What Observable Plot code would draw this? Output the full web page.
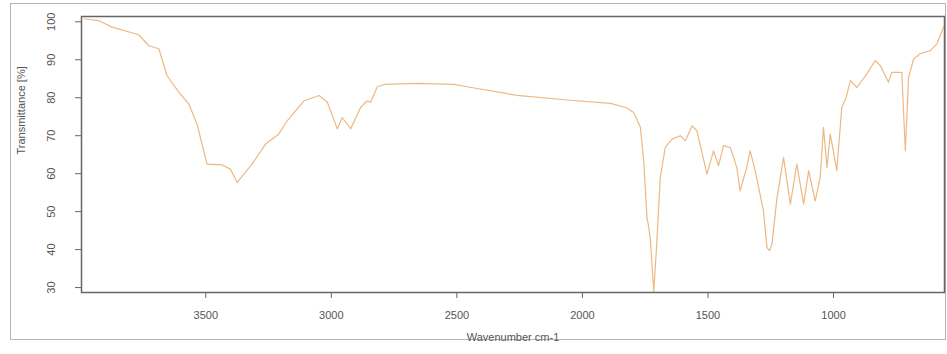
<!DOCTYPE html>
<html>
<head>
<meta charset="utf-8">
<script src="https://cdn.jsdelivr.net/npm/d3@7"></script>
<script src="https://cdn.jsdelivr.net/npm/@observablehq/plot@0.6"></script>
<style>
  body { margin: 0; background: #fff; }
  #wrap { position: relative; width: 947px; height: 354px; overflow: hidden; }
  #outer { position: absolute; left: 10px; top: 3px; width: 936px; height: 337px; border: 1px solid #b5b5b5; box-sizing: border-box; }
  #chart { position: absolute; left: 0; top: 0; }
</style>
</head>
<body>
<div id="wrap"><div id="outer"></div><div id="chart"></div></div>
<script>
const wavenumber = [3985,3926,3873,3767,3727,3687,3654,3607,3568,3535,3495,3435,3402,3375,3316,3262,3210,3175,3109,3049,3016,2976,2957,2923,2883,2857,2843,2817,2790,2658,2512,2459,2260,2061,1888,1822,1796,1769,1756,1743,1736,1729,1716,1704,1690,1670,1643,1610,1590,1563,1544,1504,1478,1458,1438,1411,1385,1372,1346,1332,1312,1279,1265,1255,1245,1225,1199,1172,1146,1119,1099,1073,1053,1040,1026,1013,987,967,950,933,907,867,834,814,781,768,728,714,701,681,655,615,588,562];
const transmittance = [100.8,100.3,98.6,96.6,93.7,92.9,85.8,81.4,78.4,73.1,62.5,62.3,61.2,57.7,62.5,67.8,70.4,74,79.2,80.6,78.8,71.8,74.8,71.8,77.5,79.2,78.8,82.9,83.5,83.8,83.5,82.9,80.6,79.4,78.5,77.3,76.1,72.2,63.4,48.4,46,42.3,29,41.5,59,66.9,69.1,70,68.7,72.6,71.3,59.9,66,62.1,67.4,66.9,61.6,55.5,61.6,66,60.8,50.2,40.5,39.7,41.5,53.7,64.3,52,62.5,52,60.8,52.8,59,72.2,61.6,70.4,60.8,77.5,80,84.5,82.7,86.3,89.8,88.5,84.1,86.7,86.7,66,85.4,90.2,91.6,92.4,94.2,98.6];
const xTicks = [3500,3000,2500,2000,1500,1000];
const yTicks = [30,40,50,60,70,80,90,100];
const xTitle = "Wavenumber cm-1";
const yTitle = "Transmittance [%]";

const data = wavenumber.map((w, i) => ({w, t: transmittance[i]}));

const chart = Plot.plot({
  width: 947, height: 354,
  marginLeft: 81, marginTop: 16, marginRight: 3, marginBottom: 62,
  x: {domain: [3995, 558]},
  y: {domain: [28.7, 101.4]},
  style: {fontFamily: "'Liberation Sans', Arial, sans-serif", fontSize: "11px", color: "#555", background: "transparent"},
  marks: [
    Plot.line(data, {x: "w", y: "t", stroke: "#ecb985", strokeWidth: 1.2}),
    Plot.frame({stroke: "#666", strokeWidth: 1.5}),
    Plot.axisX({ticks: xTicks, tickSize: 6, tickPadding: 13, tickFormat: d => String(d), label: null, stroke: "#666"}),
    Plot.axisY({ticks: yTicks, tickSize: 6, tickPadding: 21, tickRotate: -90, tickFormat: d => String(d), label: null, stroke: "#666"}),
    Plot.text([xTitle], {frameAnchor: "bottom", dy: 48, text: d => d, fill: "#555", fontSize: 11}),
    Plot.text([yTitle], {frameAnchor: "left", dx: -60, rotate: -90, text: d => d, fill: "#555", fontSize: 11})
  ]
});
document.getElementById("chart").appendChild(chart);
</script>
</body>
</html>
